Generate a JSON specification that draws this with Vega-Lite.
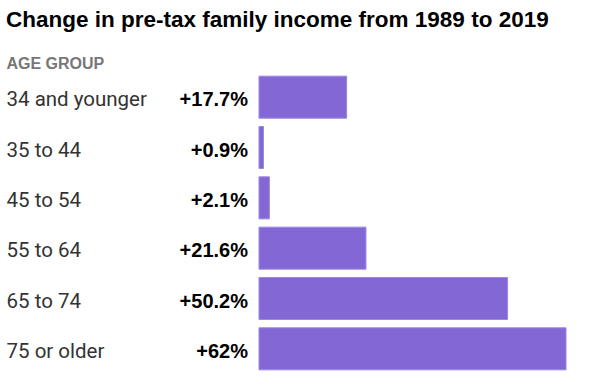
{
  "$schema": "https://vega.github.io/schema/vega-lite/v6.json",
  "width": 307,
  "height": 302,
  "autosize": "none",
  "padding": {"left": 259, "top": 72, "right": 34, "bottom": 12},
  "background": "white",
  "title": {
    "text": "Change in pre-tax family income from 1989 to 2019",
    "anchor": "start",
    "frame": "bounds",
    "font": "Liberation Sans",
    "fontSize": 22.5,
    "fontWeight": "bold",
    "color": "#000000",
    "offset": 24
  },
  "data": {
    "values": [
      {"age": "34 and younger", "change": 17.7, "label": "+17.7%"},
      {"age": "35 to 44", "change": 0.9, "label": "+0.9%"},
      {"age": "45 to 54", "change": 2.1, "label": "+2.1%"},
      {"age": "55 to 64", "change": 21.6, "label": "+21.6%"},
      {"age": "65 to 74", "change": 50.2, "label": "+50.2%"},
      {"age": "75 or older", "change": 62, "label": "+62%"}
    ]
  },
  "encoding": {
    "y": {
      "field": "age",
      "type": "nominal",
      "sort": null,
      "scale": {"paddingInner": 0.165, "paddingOuter": 0.0825},
      "axis": {
        "title": "AGE GROUP",
        "titleAngle": 0,
        "titleAlign": "left",
        "titleBaseline": "alphabetic",
        "titleX": -253,
        "titleY": -4,
        "titleFont": "Liberation Sans",
        "titleFontSize": 16,
        "titleFontWeight": "bold",
        "titleColor": "#777777",
        "domain": false,
        "ticks": false,
        "labelAlign": "left",
        "labelBaseline": "alphabetic",
        "labelPadding": 253,
        "labelOffset": 9,
        "labelFont": "Roboto",
        "labelFontSize": 20.5,
        "labelColor": "#333333",
        "labelLimit": 250
      }
    }
  },
  "layer": [
    {
      "mark": {"type": "bar", "color": "#8367d5", "stroke": "#9c87e1", "strokeWidth": 1},
      "encoding": {
        "x": {"field": "change", "type": "quantitative", "scale": {"domain": [0, 62], "nice": false}, "axis": null}
      }
    },
    {
      "mark": {"type": "text", "align": "right", "baseline": "alphabetic", "dx": -11, "dy": 9, "font": "Liberation Sans", "fontSize": 20, "fontWeight": "bold", "color": "#000000"},
      "encoding": {
        "x": {"datum": 0, "type": "quantitative"},
        "text": {"field": "label"}
      }
    }
  ],
  "config": {"view": {"stroke": null}}
}
